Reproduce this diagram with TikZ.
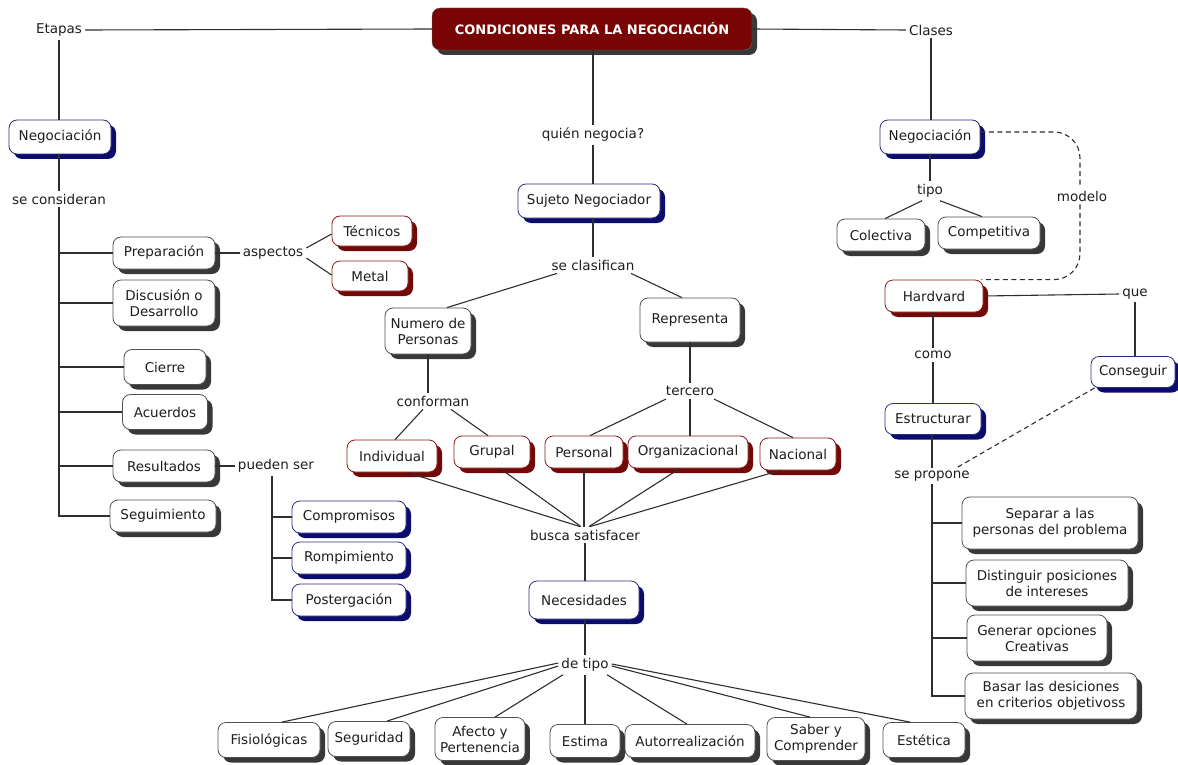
\documentclass[tikz,border=0pt]{standalone}
\usepackage{fontspec}
\setmainfont{DejaVu Sans}
\usetikzlibrary{shadows}
\definecolor{ink}{HTML}{1E1E1E}
\definecolor{wire}{HTML}{2E2E2E}
\definecolor{navy}{HTML}{0C0C6C}
\definecolor{navyedge}{HTML}{2E2E80}
\definecolor{maroon}{HTML}{720808}
\definecolor{maroonedge}{HTML}{8A1C1C}
\definecolor{graysh}{HTML}{383838}
\definecolor{grayedge}{HTML}{505050}
\definecolor{titlefill}{HTML}{780404}

\begin{document}
\begin{tikzpicture}[x=1pt,y=-1pt,
  every node/.style={font=\fontsize{13.5}{16}\selectfont, text=ink},
  concept/.style={draw, rounded corners=8pt, fill=white, align=center,
    line width=0.8pt, inner xsep=5pt, inner ysep=4pt, minimum height=32pt},
  bluebox/.style={concept, draw=navyedge,
    drop shadow={shadow xshift=5pt, shadow yshift=-5pt, fill=navy, opacity=1}},
  redbox/.style={concept, draw=maroonedge,
    drop shadow={shadow xshift=5pt, shadow yshift=-5pt, fill=maroon, opacity=1}},
  graybox/.style={concept, draw=grayedge,
    drop shadow={shadow xshift=5pt, shadow yshift=-5pt, fill=graysh, opacity=1}},
  phrase/.style={inner sep=3pt},
  link/.style={draw=wire, line width=1.1pt},
  dashlink/.style={link, dash pattern=on 5pt off 3.5pt},
]
\useasboundingbox (0,0) rectangle (1178,765);

% ---------- title and the three main branches ----------
\node[draw=black!60, fill=titlefill, rounded corners=8pt, minimum width=320pt,
  minimum height=42pt, text=white, font=\fontsize{13}{15.5}\selectfont\bfseries,
  drop shadow={shadow xshift=5pt, shadow yshift=-5pt, fill=graysh, opacity=1}]
  (title) at (592,29) {CONDICIONES PARA LA NEGOCIACIÓN};
\node[phrase] (etapas) at (59,30) {Etapas};
\node[phrase] (clases) at (931,30) {Clases};
\node[phrase] (quien) at (593,135) {quién negocia?};

% ---------- left: stages ----------
\node[bluebox, minimum width=102pt, minimum height=34pt] (negL) at (60,137) {Negociación};
\node[phrase] (consid) at (59,199) {se consideran};
\node[graybox, minimum width=102pt] (prep) at (164,253) {Preparación};
\node[graybox, minimum width=102pt, minimum height=46pt] (disc) at (164,303) {Discusión o\\Desarrollo};
\node[graybox, minimum width=82pt, minimum height=35pt] (cierre) at (165,367) {Cierre};
\node[graybox, minimum width=85pt, minimum height=35pt] (acuer) at (165,412) {Acuerdos};
\node[graybox, minimum width=102pt] (result) at (164,466) {Resultados};
\node[graybox, minimum width=106pt] (segui) at (163,516) {Seguimiento};
\node[phrase] (aspectos) at (273,253) {aspectos};
\node[redbox, minimum width=80pt, minimum height=30pt] (tecn) at (372,231) {Técnicos};
\node[redbox, minimum width=76pt, minimum height=30pt] (metal) at (370,276) {Metal};
\node[phrase] (pueden) at (276,466) {pueden ser};
\node[bluebox, minimum width=114pt] (compr) at (349,517) {Compromisos};
\node[bluebox, minimum width=114pt] (romp) at (349,558) {Rompimiento};
\node[bluebox, minimum width=114pt] (poster) at (349,600) {Postergación};

% ---------- centre: who negotiates ----------
\node[bluebox, minimum width=142pt, minimum height=34pt] (sujeto) at (589,201) {Sujeto Negociador};
\node[phrase] (clasif) at (593,265) {se clasifican};
\node[graybox, minimum width=86pt, minimum height=46pt] (numero) at (428,331) {Numero de\\Personas};
\node[graybox, minimum width=100pt, minimum height=44pt] (repre) at (690,320) {Representa};
\node[phrase] (conforman) at (433,401) {conforman};
\node[phrase] (tercero) at (690,391) {tercero};
\node[redbox, minimum width=90pt] (indiv) at (392,456) {Individual};
\node[redbox, minimum width=76pt] (grupal) at (492,452) {Grupal};
\node[redbox, minimum width=78pt] (personal) at (584,452) {Personal};
\node[redbox, minimum width=120pt] (organ) at (688,452) {Organizacional};
\node[redbox, minimum width=76pt] (nacional) at (798,454) {Nacional};
\node[phrase] (busca) at (585,535) {busca satisfacer};
\node[bluebox, minimum width=110pt, minimum height=38pt] (neces) at (584,600) {Necesidades};
\node[phrase] (detipo) at (585,665) {de tipo};
\node[graybox, minimum width=102pt, minimum height=35pt] (fisio) at (269,740) {Fisiológicas};
\node[graybox, minimum width=82pt, minimum height=35pt] (segur) at (369,739) {Seguridad};
\node[graybox, minimum width=80pt, minimum height=43pt] (afecto) at (480,739) {Afecto y\\Pertenencia};
\node[graybox, minimum width=70pt, minimum height=33pt] (estima) at (585,741) {Estima};
\node[graybox, minimum width=130pt, minimum height=33pt] (autor) at (690,741) {Autorrealización};
\node[graybox, minimum width=98pt, minimum height=43pt] (saber) at (816,739) {Saber y\\Comprender};
\node[graybox, minimum width=82pt, minimum height=35pt] (estet) at (924,740) {Estética};

% ---------- right: classes ----------
\node[bluebox, minimum width=100pt, minimum height=34pt] (negR) at (930,137) {Negociación};
\node[phrase] (tipo) at (930,191) {tipo};
\node[graybox, minimum width=88pt] (colect) at (881,235) {Colectiva};
\node[graybox, minimum width=102pt] (compet) at (989,233) {Competitiva};
\node[phrase] (modelo) at (1082,196) {modelo};
\node[redbox, minimum width=98pt] (hard) at (934,296) {Hardvard};
\node[phrase] (que) at (1135,294) {que};
\node[bluebox, minimum width=84pt, minimum height=31pt] (conseg) at (1133,372) {Conseguir};
\node[phrase] (como) at (933,355) {como};
\node[bluebox, minimum width=96pt, minimum height=31pt] (estruct) at (933,419) {Estructurar};
\node[phrase] (propone) at (932,476) {se propone};
\node[graybox, minimum width=176pt, minimum height=52pt] (sep) at (1050,523) {Separar a las\\personas del problema};
\node[graybox, minimum width=162pt, minimum height=46pt] (dist) at (1047,583) {Distinguir posiciones\\de intereses};
\node[graybox, minimum width=140pt, minimum height=46pt] (gen) at (1037,638) {Generar opciones\\Creativas};
\node[graybox, minimum width=172pt, minimum height=46pt] (basar) at (1051,696) {Basar las desiciones\\en criterios objetivoss};

% ---------- connectors ----------
\begin{scope}[link]
  % title
  \draw (etapas.east) -- (title.west);
  \draw (title.east) -- (clases.west);
  \draw (quien.north |- title.south) -- (quien.north);
  % stages
  \draw (etapas.south) -- (etapas.south |- negL.north);
  \draw (consid.north |- negL.south) -- (consid.north);
  \draw (consid.south) |- (segui.west);
  \draw (consid.south |- prep.west) -- (prep.west);
  \draw (consid.south |- disc.west) -- (disc.west);
  \draw (consid.south |- cierre.west) -- (cierre.west);
  \draw (consid.south |- acuer.west) -- (acuer.west);
  \draw (consid.south |- result.west) -- (result.west);
  \draw (prep.east) -- (aspectos.west);
  \draw ([yshift=5pt]aspectos.east) -- ([yshift=-3pt]tecn.west);
  \draw ([yshift=-5pt]aspectos.east) -- ([yshift=1pt]metal.west);
  \draw (result.east) -- (pueden.west);
  \draw ([xshift=-4pt]pueden.south) |- (poster.west);
  \draw ([xshift=-4pt]pueden.south |- compr.west) -- (compr.west);
  \draw ([xshift=-4pt]pueden.south |- romp.west) -- (romp.west);
  % who negotiates
  \draw (quien.south) -- (quien.south |- sujeto.north);
  \draw (clasif.north |- sujeto.south) -- (clasif.north);
  \draw ([xshift=-36pt]clasif.south) -- ([xshift=19pt]numero.north);
  \draw ([xshift=38pt]clasif.south) -- ([xshift=-8pt]repre.north);
  \draw ([xshift=-5pt]conforman.north |- numero.south) -- ([xshift=-5pt]conforman.north);
  \draw ([xshift=-10pt]conforman.south) -- ([xshift=3pt]indiv.north);
  \draw ([xshift=18pt]conforman.south) -- ([xshift=-4pt]grupal.north);
  \draw (repre.south) -- (tercero.north);
  \draw ([xshift=-24pt]tercero.south) -- ([xshift=6pt]personal.north);
  \draw (tercero.south) -- (tercero.south |- organ.north);
  \draw ([xshift=24pt]tercero.south) -- ([xshift=-5pt]nacional.north);
  \draw ([xshift=15pt]indiv.south) -- ([xshift=-5pt]busca.north);
  \draw ([xshift=8pt]grupal.south) -- ([xshift=-4pt]busca.north);
  \draw (personal.south) -- (personal.south |- busca.north);
  \draw ([xshift=-8pt]organ.south) -- ([xshift=4pt]busca.north);
  \draw ([xshift=-18pt]nacional.south) -- ([xshift=5pt]busca.north);
  \draw (busca.south) -- (busca.south |- neces.north);
  \draw (detipo.north |- neces.south) -- (detipo.north);
  \draw ([yshift=2pt]detipo.west) -- ([xshift=13pt]fisio.north);
  \draw ([yshift=-1pt]detipo.west) -- ([xshift=18pt]segur.north);
  \draw ([xshift=-22pt]detipo.south) -- ([xshift=15pt]afecto.north);
  \draw (detipo.south) -- (detipo.south |- estima.north);
  \draw ([xshift=22pt]detipo.south) -- ([xshift=-3pt]autor.north);
  \draw ([yshift=-1pt]detipo.east) -- ([xshift=-6pt]saber.north);
  \draw ([yshift=1pt]detipo.east) -- ([xshift=-14pt]estet.north);
  % classes
  \draw (clases.south) -- (clases.south |- negR.north);
  \draw (negR.south) -- (tipo.north);
  \draw ([xshift=-8pt]tipo.south) -- ([xshift=4pt]colect.north);
  \draw ([xshift=10pt]tipo.south) -- ([xshift=-7pt]compet.north);
  \draw[dashlink, rounded corners=26pt] ([yshift=5pt]negR.east) -| ([xshift=-2pt]modelo.north);
  \draw[dashlink, rounded corners=26pt] ([xshift=-2pt]modelo.south) |- ([xshift=-2pt]hard.north east);
  \draw (hard.east) -- (que.west);
  \draw (que.south) -- (que.south |- conseg.north);
  \draw (como.north |- hard.south) -- (como.north);
  \draw (como.south) -- (como.south |- estruct.north);
  \draw (propone.north |- estruct.south) -- (propone.north);
  \draw[dashlink] ([xshift=4pt]conseg.south west) -- ([xshift=-16pt]propone.north east);
  \draw (propone.south) |- (basar.west);
  \draw (propone.south |- sep.west) -- (sep.west);
  \draw (propone.south |- dist.west) -- (dist.west);
  \draw (propone.south |- gen.west) -- (gen.west);
\end{scope}
\end{tikzpicture}
\end{document}
